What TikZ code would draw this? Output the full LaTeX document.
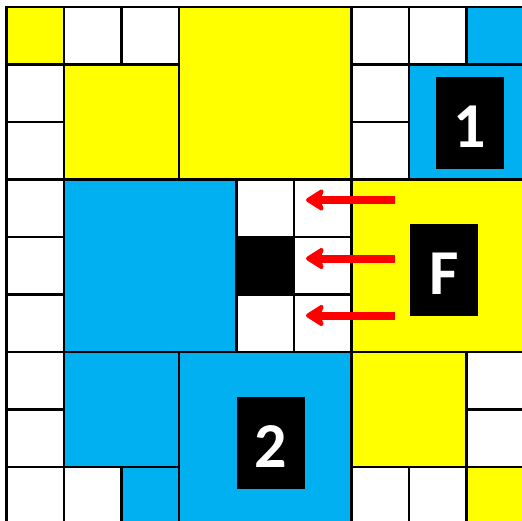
\documentclass[tikz,border=0pt]{standalone}
\usepackage{fontspec}
\newfontfamily\tagfont{Carlito}
\usetikzlibrary{arrows.meta}

\tikzset{every picture/.style={line width=0.75pt}}
\tikzset{
  cell/.style={draw=black, line width=1.9pt},
  ycell/.style={cell, fill={rgb, 255:red, 255; green, 255; blue, 0 }},
  bcell/.style={cell, fill={rgb, 255:red, 0; green, 176; blue, 240 }},
  wcell/.style={cell, fill=white},
  kcell/.style={cell, fill=black},
  tagbox/.style={fill=black, text=white, inner sep=0pt, minimum width=51pt, minimum height=69pt,
    text height=37pt, text depth=0pt, font=\tagfont\bfseries\fontsize{48}{48}\selectfont},
  push/.style={draw={rgb, 255:red, 255; green, 0; blue, 0 }, line width=6pt,
    -{Stealth[round, length=16pt, width=20pt, inset=4pt]}},
}

\begin{document}
\begin{tikzpicture}[x=0.75pt,y=0.75pt,yscale=-1,xscale=1]
\useasboundingbox (0,0) rectangle (522,521);
\clip (0,0) rectangle (522,521);

%Shape: Yellow blocks
\draw [ycell] (6.5,7) rectangle (64,64.5) ;
\draw [ycell] (179,7) rectangle (351.5,179.5) ;
\draw [ycell] (64,64.5) rectangle (179,179.5) ;
\draw [ycell] (351.5,179.5) rectangle (524,352) ;
\draw [ycell] (351.5,352) rectangle (466.5,467) ;
\draw [ycell] (466.5,467) rectangle (524,524.5) ;
%Shape: Blue blocks
\draw [bcell] (466.5,7) rectangle (524,64.5) ;
\draw [bcell] (409,64.5) rectangle (524,179.5) ;
\draw [bcell] (64,179.5) rectangle (236.5,352) ;
\draw [bcell] (64,352) rectangle (179,467) ;
\draw [bcell] (179,352) rectangle (351.5,524.5) ;
\draw [bcell] (121.5,467) rectangle (179,524.5) ;
%Shape: Black cell
\draw [kcell] (236.5,237) rectangle (294,294.5) ;
%Shape: White cells, row by row
\draw [wcell] (64,7) rectangle (121.5,64.5) (121.5,7) rectangle (179,64.5) (351.5,7) rectangle (409,64.5) (409,7) rectangle (466.5,64.5) ;
\draw [wcell] (6.5,64.5) rectangle (64,122) (351.5,64.5) rectangle (409,122) ;
\draw [wcell] (6.5,122) rectangle (64,179.5) (351.5,122) rectangle (409,179.5) ;
\draw [wcell] (6.5,179.5) rectangle (64,237) (236.5,179.5) rectangle (294,237) (294,179.5) rectangle (351.5,237) ;
\draw [wcell] (6.5,237) rectangle (64,294.5) (294,237) rectangle (351.5,294.5) ;
\draw [wcell] (6.5,294.5) rectangle (64,352) (236.5,294.5) rectangle (294,352) (294,294.5) rectangle (351.5,352) ;
\draw [wcell] (6.5,352) rectangle (64,409.5) (466.5,352) rectangle (524,409.5) ;
\draw [wcell] (6.5,409.5) rectangle (64,467) (466.5,409.5) rectangle (524,467) ;
\draw [wcell] (6.5,467) rectangle (64,524.5) (64,467) rectangle (121.5,524.5) (351.5,467) rectangle (409,524.5) (409,467) rectangle (466.5,524.5) ;

% Text Node
\node [tagbox] (blkone) at (470,123) {1};
% Text Node
\node [tagbox] (blkF) at (444,270) {F};
% Text Node
\node [tagbox] (blktwo) at (270.5,443) {2};

%Straight Lines
\coordinate (pushAs) at (395,200);
\coordinate (pushAe) at (306,200);
\coordinate (pushBs) at (395,258.5);
\coordinate (pushBe) at (306,258.5);
\coordinate (pushCs) at (395,315.5);
\coordinate (pushCe) at (306,315.5);
\draw [push] (pushAs) -- (pushAe) ;
\draw [push] (pushBs) -- (pushBe) ;
\draw [push] (pushCs) -- (pushCe) ;

\end{tikzpicture}
\end{document}
